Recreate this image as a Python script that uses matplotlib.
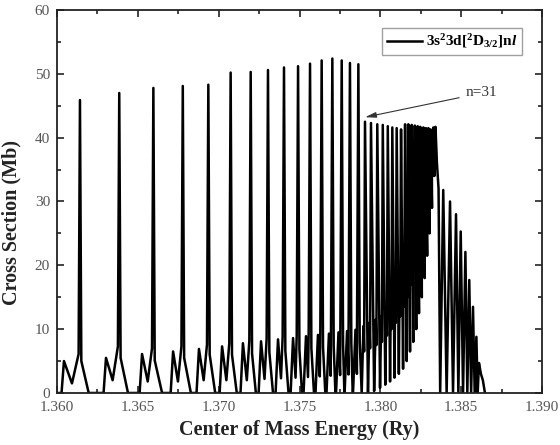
import matplotlib.pyplot as plt
from matplotlib.ticker import MultipleLocator

plt.rcParams['font.family'] = ['Liberation Serif', 'DejaVu Serif']
plt.rcParams['mathtext.fontset'] = 'custom'
plt.rcParams['mathtext.rm'] = 'Liberation Serif:bold'
plt.rcParams['mathtext.it'] = 'Liberation Serif:italic:bold'
plt.rcParams['mathtext.bf'] = 'Liberation Serif:bold'

# lines below n=31: small precursor, plateau, strong main line
pre_E = [1.36043, 1.36303, 1.36526, 1.36718, 1.36878, 1.37021, 1.37150, 1.37262,
         1.37367, 1.37460, 1.37540, 1.37614, 1.37682, 1.37741, 1.37794, 1.37846]
pre_h = [5.0, 5.5, 6.1, 6.5, 6.9, 7.3, 7.8, 8.1, 8.4, 8.6, 8.9, 9.1, 9.3, 9.5, 9.7, 9.9]
dip_h = [1.5, 2.0, 1.8, 1.8, 2.0, 2.0, 2.0, 2.2, 2.3, 2.4, 2.5, 2.6, 2.7, 2.8, 2.9, 3.0]
rise_h = [6.1, 7.3, 7.0, 7.3, 7.6, 7.8, 8.2, 8.5, 8.8, 9.0, 9.3, 9.5, 9.7, 9.9, 10.1, 10.3]
main_E = [1.36142, 1.36385, 1.36596, 1.36778, 1.36936, 1.37074, 1.37198, 1.37305,
          1.37404, 1.37491, 1.37565, 1.37637, 1.37703, 1.37761, 1.37812, 1.37864]
main_h = [45.9, 47.0, 47.8, 48.1, 48.3, 50.2, 50.3, 50.6, 51.0, 51.2, 51.6, 52.1,
          52.4, 52.1, 51.7, 51.5]
side_h = [5.0, 5.5, 5.1, 5.5, 6.0, 6.0, 6.2, 6.4, 6.6, 6.8, 7.0, 7.2, 7.4, 7.6, 7.8, 8.0]

# n>=31 up to the series limit
lim_E = [1.37905, 1.37942, 1.37981, 1.38015, 1.38046, 1.38074, 1.38101, 1.38128,
         1.38153, 1.38173, 1.38194, 1.38213, 1.38231, 1.38247, 1.38266, 1.38282,
         1.38297, 1.38311, 1.38328, 1.38341]
lim_h = [42.5, 42.3, 42.1, 42.0, 41.8, 41.6, 41.5, 41.3, 42.1, 42.1, 42.0, 41.9,
         41.8, 41.7, 41.6, 41.5, 41.5, 41.3, 41.6, 41.7]
lim_pre = [10.5, 11.0, 11.5, 12.0, 13.0, 14.0, 15.0, 16.0, 17.5, 19.0, 21.0, 23.0,
           25.0, 27.0, 29.5, 32.0, 34.0, 36.0, 38.0, 40.0]
lim_floor = [0.0, 0.3, 0.8, 1.3, 1.8, 2.4, 3.0, 3.8, 5.0, 6.5, 8.0, 10.0, 12.5,
             15.0, 18.0, 21.5, 25.0, 29.0, 34.0]
drop_E = [1.38350, 1.38360, 1.38370]
drop_h = [36.0, 32.0, 0.0]

# lines above the limit
hi_E = [1.38389, 1.38431, 1.38468, 1.38497, 1.38526, 1.38550, 1.38573, 1.38594, 1.38610]
hi_h = [31.8, 30.0, 28.0, 25.3, 22.1, 17.7, 13.5, 8.8, 4.7]
tail_E = [1.38622, 1.38634, 1.38647]
tail_h = [3.0, 2.0, 0.0]

d = 0.00006  # about one pixel in energy

E = [1.3600]
sig = [0.0]
for i in range(len(main_E)):
    if i + 1 < len(main_E):
        nxt = pre_E[i + 1]
    else:
        nxt = lim_E[0]
    E += [pre_E[i] - 2.5 * d, pre_E[i], (pre_E[i] + main_E[i]) / 2,
          main_E[i] - 1.4 * d, main_E[i], main_E[i] + 1.4 * d,
          main_E[i] + min(9 * d, 0.5 * (nxt - main_E[i]))]
    sig += [0.0, pre_h[i], dip_h[i], rise_h[i], main_h[i], side_h[i], 0.0]

for j in range(len(lim_E)):
    E += [lim_E[j] - 1.6 * d, lim_E[j] - 0.9 * d, lim_E[j]]
    sig += [lim_pre[j], lim_pre[j] - 4.0, lim_h[j]]
    if j < len(lim_floor):
        E.append((lim_E[j] + lim_E[j + 1]) / 2)
        sig.append(lim_floor[j])
E += drop_E
sig += drop_h

for k in range(len(hi_E)):
    E += [hi_E[k]]
    sig += [hi_h[k]]
    if k + 1 < len(hi_E):
        E.append((hi_E[k] + hi_E[k + 1]) / 2)
        sig.append(0.0)
E += tail_E
sig += tail_h

fig = plt.figure(figsize=(5.6, 4.45), dpi=100)
ax = fig.add_axes([0.1018, 0.1169, 0.8661, 0.8606])
ax.plot(E, sig, color='black', lw=1.8, solid_joinstyle='round',
        label=r'3s$^2$3d[$^2$D$_{3/2}$]n$\mathit{l}$')

ax.set_xlim(1.360, 1.390)
ax.set_ylim(0, 60)
ax.xaxis.set_major_locator(MultipleLocator(0.005))
ax.xaxis.set_minor_locator(MultipleLocator(0.0025))
ax.yaxis.set_major_locator(MultipleLocator(10))
ax.yaxis.set_minor_locator(MultipleLocator(5))
ax.xaxis.set_major_formatter(plt.FormatStrFormatter('%.3f'))
ax.tick_params(which='both', direction='in', top=True, right=True, width=1.2,
               labelsize=11, labelcolor='#555555', color='#222222')
ax.tick_params(which='major', length=5)
ax.tick_params(which='minor', length=3)
ax.tick_params(axis='x', pad=6)
ax.tick_params(axis='y', pad=5)
for s in ax.spines.values():
    s.set_linewidth(1.3)
    s.set_color('#222222')

ax.set_xlabel('Center of Mass Energy (Ry)', fontsize=14.5, fontweight='bold',
              color='#222222', labelpad=4)
ax.set_ylabel('Cross Section (Mb)', fontsize=14.5, fontweight='bold', color='#222222')
ax.yaxis.set_label_coords(-0.074, 0.445)

leg = ax.legend(loc='upper right', bbox_to_anchor=(0.959, 0.953), borderaxespad=0,
                fancybox=False, edgecolor='#888888', handlelength=2.3,
                handletextpad=0.3, borderpad=0.3,
                prop={'weight': 'bold', 'size': 11})
leg.get_frame().set_linewidth(1.0)

ax.annotate('n=31', xy=(1.37905, 43.2), xytext=(1.3853, 47.0), ha='left', va='center',
            fontsize=11, color='#333333',
            arrowprops=dict(arrowstyle='-|>,head_length=0.6,head_width=0.15',
                            lw=0.8, color='#333333', shrinkA=3, shrinkB=0))

fig.savefig('out.png', dpi=100)
